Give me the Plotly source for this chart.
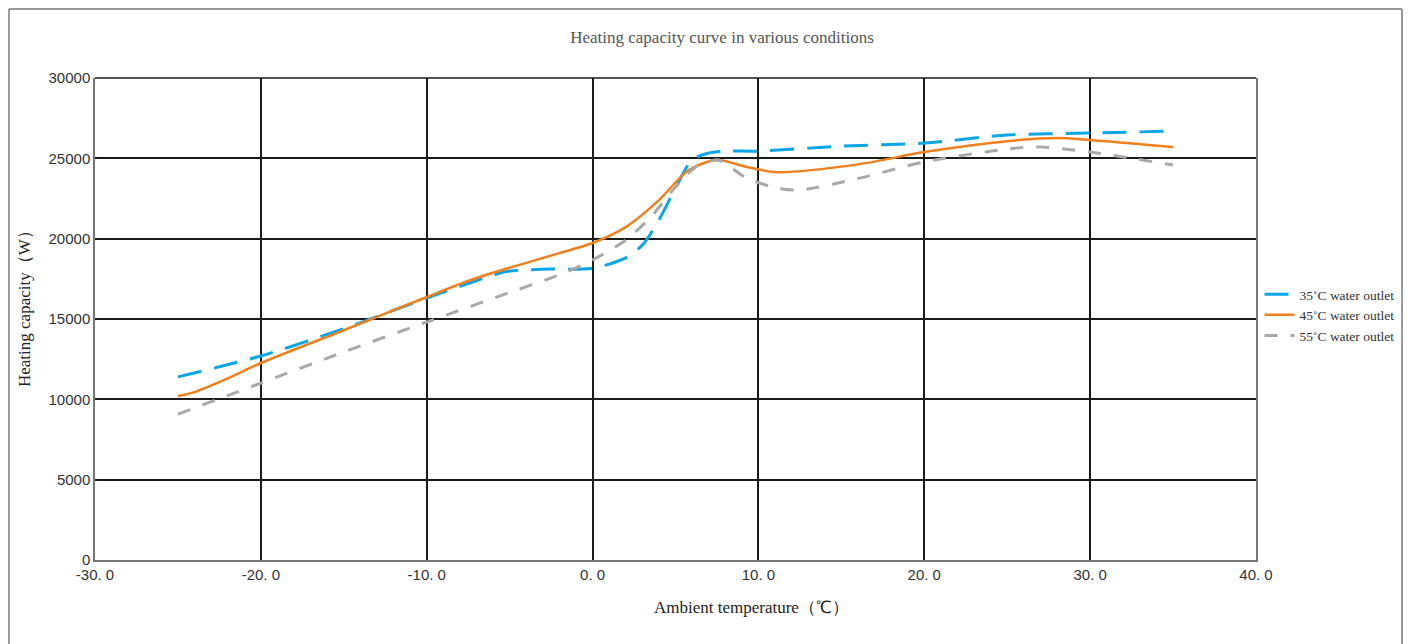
import plotly.graph_objects as go

# Ambient temperature (°C) sample points and heating capacity (W) per water outlet temp
x35 = [-25, -20, -15, -10, -6, -5, -3, 0, 2, 3, 4, 5, 6, 7, 8, 10, 15, 20, 25, 30, 35]
y35 = [11400, 12700, 14400, 16300, 17730, 17980, 18100, 18170, 18800, 19600, 21160, 23150, 24900, 25330, 25450, 25450, 25760, 25950, 26450, 26570, 26700]

x45 = [-25, -24, -22, -20, -15, -10, -7, -2, 0, 2, 4, 5.8, 7.5, 9.3, 11.1, 16.1, 20, 25, 28, 30, 35]
y45 = [10200, 10450, 11300, 12260, 14300, 16370, 17550, 19100, 19730, 20720, 22400, 24270, 24890, 24460, 24140, 24640, 25390, 26070, 26260, 26140, 25700]

x55 = [-25, -20, -15, -10, -5, -2, 0, 2, 3.5, 5.2, 6.4, 7.6, 9.2, 11.1, 12.5, 16.1, 20, 25, 27, 30, 35]
y55 = [9080, 11010, 12950, 14810, 16650, 17750, 18670, 19910, 21340, 23450, 24580, 24890, 23830, 23150, 23030, 23770, 24770, 25580, 25700, 25390, 24580]

series_names = ["35˚C water outlet", "45˚C water outlet", "55˚C water outlet"]

x_ticks = [-30, -20, -10, 0, 10, 20, 30, 40]
x_tick_labels = ["-30. 0", "-20. 0", "-10. 0", "0. 0", "10. 0", "20. 0", "30. 0", "40. 0"]
y_ticks = [0, 5000, 10000, 15000, 20000, 25000, 30000]
y_tick_labels = ["0", "5000", "10000", "15000", "20000", "25000", "30000"]

fig = go.Figure()
fig.add_trace(go.Scatter(x=x35, y=y35, mode="lines", name=series_names[0],
                         line=dict(color="#0aa6e8", width=3, dash="24px,13px", shape="spline", smoothing=0.8)))
fig.add_trace(go.Scatter(x=x45, y=y45, mode="lines", name=series_names[1],
                         line=dict(color="#f07f1d", width=2.5, shape="spline", smoothing=0.8)))
fig.add_trace(go.Scatter(x=x55, y=y55, mode="lines", name=series_names[2],
                         line=dict(color="#a9a9a9", width=3, dash="13px,13px", shape="spline", smoothing=0.8)))

serif = "Liberation Serif, Times New Roman, serif"
narrow = "Liberation Sans Narrow, Arial Narrow, Liberation Sans, sans-serif"

# page body has an 8px margin: figure is drawn at (8,8)
OFF = 8
W, H = 1412 - 2 * OFF, 644 - OFF
X0, X1, Y0, Y1 = 95, 1256, 78, 560  # plot area in page pixels

fig.update_layout(
    width=W, height=H,
    margin=dict(l=X0 - OFF, r=W - (X1 - OFF), t=Y0 - OFF, b=H - (Y1 - OFF), autoexpand=False),
    paper_bgcolor="white", plot_bgcolor="white",
    title=dict(text="Heating capacity curve in various conditions", x=(722 - OFF) / W, xanchor="center",
               y=1 - (37 - OFF) / H, yanchor="middle", font=dict(family=serif, size=17, color="#555")),
    xaxis=dict(range=[-30, 40], tickvals=x_ticks, ticktext=x_tick_labels, showgrid=True,
               gridcolor="#1a1a1a", gridwidth=1.5, showline=True, linecolor="#777", linewidth=1.5,
               mirror=False, zeroline=False, ticks="",
               tickfont=dict(family=narrow, size=15, color="#333")),
    yaxis=dict(range=[0, 30000], tickvals=y_ticks, ticktext=y_tick_labels, showgrid=True,
               gridcolor="#1a1a1a", gridwidth=1.5,
               showline=True, linecolor="#777", linewidth=1.5, mirror=True, zeroline=False, ticks="",
               tickfont=dict(family=narrow, size=15, color="#333")),
    legend=dict(xref="container", x=(1259.5 - OFF) / W, xanchor="left",
                yref="container", y=1 - (315 - OFF) / H, yanchor="middle",
                font=dict(family=serif, size=13.5, color="#333"), bgcolor="rgba(0,0,0,0)",
                tracegroupgap=0, itemwidth=30),
    showlegend=True,
)

pw = X1 - X0
ph = Y1 - Y0
# axis titles (placed as in the reference, not centred on the plot)
fig.add_annotation(text="Ambient temperature（℃）", xref="paper", yref="paper",
                   x=(751 - X0) / pw, y=(Y1 - 607) / ph, xanchor="center", yanchor="middle",
                   showarrow=False, font=dict(family=serif, size=17, color="#222"))
fig.add_annotation(text="Heating capacity（W）", xref="paper", yref="paper",
                   x=(24 - X0) / pw, y=(Y1 - 305) / ph, xanchor="center", yanchor="middle",
                   textangle=-90, showarrow=False, font=dict(family=serif, size=17, color="#222"))

# outer frame of the chart (left, top, right edges)
fl, fr, ft, fb = (9 - X0) / pw, (1402 - X0) / pw, (Y1 - 9) / ph, -0.3
for (a, b, c, d) in [(fl, fb, fl, ft), (fl, ft, fr, ft), (fr, ft, fr, fb)]:
    fig.add_shape(type="line", xref="paper", yref="paper", x0=a, y0=b, x1=c, y1=d,
                  line=dict(color="#777", width=1.5), layer="below")
# top border of plot area (dark)
fig.add_shape(type="line", xref="paper", yref="paper", x0=0, x1=1, y0=1, y1=1,
              line=dict(color="#1a1a1a", width=1.5))

fig.write_html("out.html")
